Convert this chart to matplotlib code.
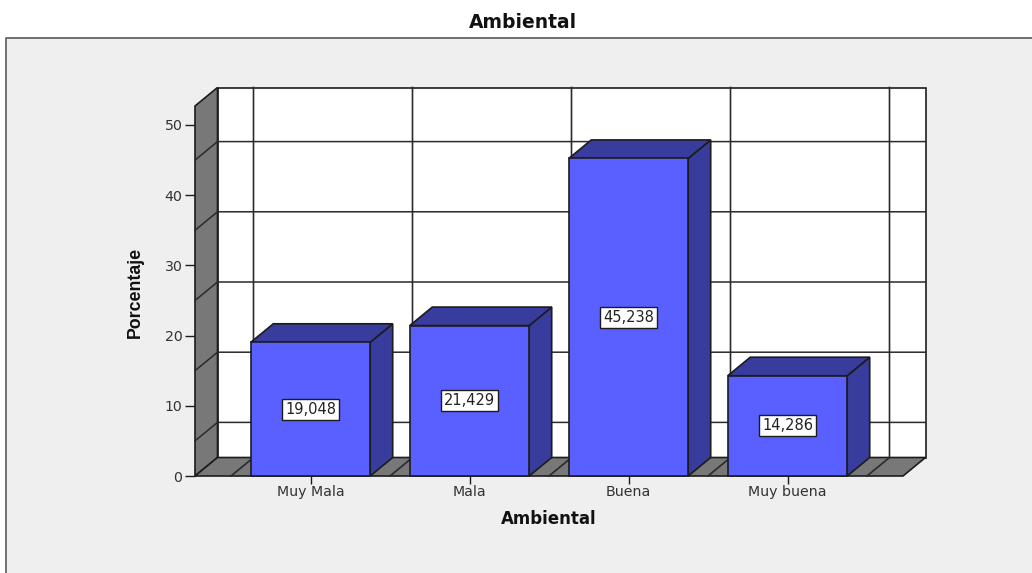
import matplotlib
matplotlib.use("Agg")
import matplotlib.pyplot as plt
from matplotlib.patches import Polygon, Rectangle
from matplotlib.lines import Line2D

categories = ["Muy Mala", "Mala", "Buena", "Muy buena"]
values = [19.048, 21.429, 45.238, 14.286]
value_labels = ["19,048", "21,429", "45,238", "14,286"]
y_ticks = [0, 10, 20, 30, 40, 50]
wall_lines = [5, 15, 25, 35, 45]

W, H = 1032, 573
LINE = "#1c1c1c"
FRONT = "#5a60ff"
DARK = "#383c9c"
WALL = "#787878"
PANEL = "#efefef"

fig = plt.figure(figsize=(W / 100, H / 100), dpi=100, facecolor="white")

# grey panel with border on top and left only
fig.add_artist(Rectangle((6 / W, 0), 1 - 6 / W, 1 - 37 / H, transform=fig.transFigure,
                         facecolor=PANEL, edgecolor="none", zorder=-5))
fig.add_artist(Line2D([6 / W, 6 / W, 1], [0, 1 - 37.5 / H, 1 - 37.5 / H],
                      transform=fig.transFigure, color="#666666", lw=1.3, zorder=-4))

# front plane of the axes in pixels: x 195-903, y 106-476
ax = fig.add_axes([195 / W, 1 - 476 / H, 708 / W, 370 / H])
ax.patch.set_alpha(0)
step = 159.0
ax.set_xlim(-115.5 / step, 592.5 / step)
ymax = 370 / 7.02
ax.set_ylim(0, ymax)
for s in ax.spines.values():
    s.set_visible(False)

dx = 22.5 / step
dy = 18.5 / 7.02
x0, x1 = ax.get_xlim()
half = 59.7 / step


def poly(pts, fc, z):
    ax.add_patch(Polygon(pts, closed=True, facecolor=fc, edgecolor=LINE, lw=1.2,
                         zorder=z, clip_on=False, joinstyle="miter"))


# back wall, side wall, floor
poly([(x0 + dx, dy), (x1 + dx, dy), (x1 + dx, ymax + dy), (x0 + dx, ymax + dy)], "white", 1)
poly([(x0, 0), (x0 + dx, dy), (x0 + dx, ymax + dy), (x0, ymax)], WALL, 2)
poly([(x0, 0), (x1, 0), (x1 + dx, dy), (x0 + dx, dy)], WALL, 2)

for v in wall_lines:
    ax.plot([x0, x0 + dx, x1 + dx], [v, v + dy, v + dy], color="#2a2a2a", lw=1.1, zorder=3, clip_on=False)
for i in range(len(categories) + 1):
    b = i - 0.5
    ax.plot([b, b + dx, b + dx], [0, dy, ymax + dy], color="#2a2a2a", lw=1.2, zorder=3, clip_on=False)

for i, (v, lab) in enumerate(zip(values, value_labels)):
    l, r = i - half, i + half
    z = 5 + i
    poly([(r, 0), (r + dx, dy), (r + dx, v + dy), (r, v)], DARK, z)
    poly([(l, v), (r, v), (r + dx, v + dy), (l + dx, v + dy)], DARK, z)
    poly([(l, 0), (r, 0), (r, v), (l, v)], FRONT, z)
    ax.text(i, v / 2, lab, ha="center", va="center", fontsize=10.5, color="#222222", zorder=20,
            bbox=dict(boxstyle="square,pad=0.2", facecolor="white", edgecolor=LINE, lw=1.0))

ax.set_yticks(y_ticks)
ax.set_xticks(range(len(categories)))
ax.set_xticklabels(categories)
ax.tick_params(axis="y", length=7.5, width=1.0, color=LINE, labelsize=10.2, pad=1.5, labelcolor="#333333")
ax.tick_params(axis="x", length=5.5, width=1.0, color=LINE, labelsize=10.2, pad=1.2, labelcolor="#333333")

ax.set_xlabel("Ambiental", fontsize=12, fontweight="bold", labelpad=8, color="#111111")
fig.text(135.5 / W, 1 - 292 / H, "Porcentaje", rotation=90, ha="center", va="center",
         fontsize=12.8, fontweight="bold", color="#111111",
         family=["Liberation Sans Narrow", "Liberation Sans"])
fig.text(522.5 / W, 1 - 22 / H, "Ambiental", ha="center", va="center",
         fontsize=13.5, fontweight="bold", color="#111111")

fig.savefig("out.png", dpi=100)
